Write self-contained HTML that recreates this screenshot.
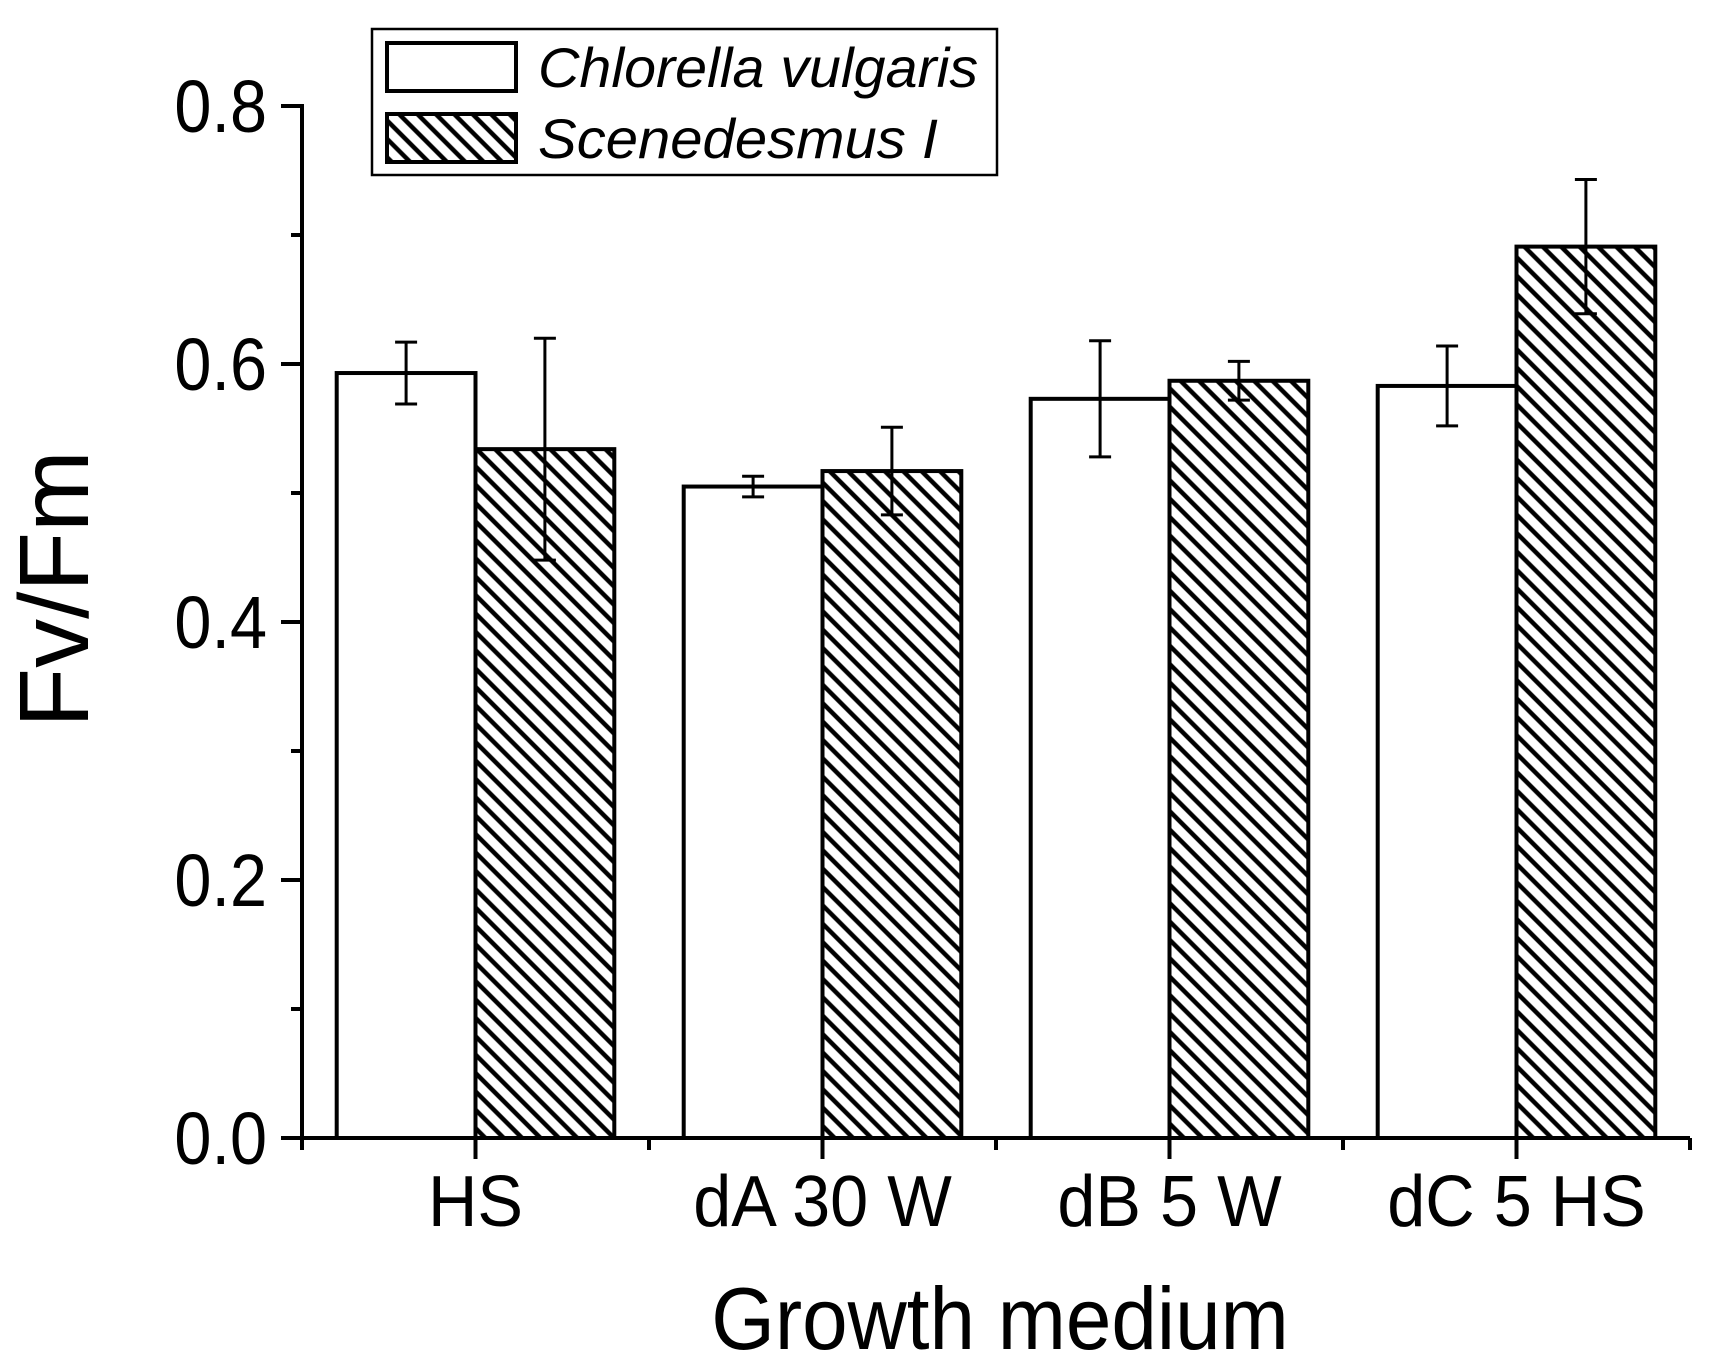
<!DOCTYPE html>
<html><head><meta charset="utf-8"><style>
html,body{margin:0;padding:0;background:#fff;}
svg{display:block;font-family:"Liberation Sans",Arial,sans-serif;}
</style></head><body>
<svg id="chart" width="1711" height="1366" viewBox="0 0 1711 1366" xmlns="http://www.w3.org/2000/svg">
<defs>
<pattern id="hatch" patternUnits="userSpaceOnUse" width="13" height="13" patternTransform="rotate(-45)">
<rect width="13" height="13" fill="#fff"/>
<line x1="0" y1="0" x2="0" y2="13" stroke="#000" stroke-width="4.5" transform="translate(6.5,0)"/>
</pattern>
</defs>
<g id="plot"></g>
<text x="0" y="0" font-size="88" text-anchor="middle" transform="translate(1000,1349) scale(0.93,1)">Growth medium</text>
<text x="0" y="0" font-size="98" text-anchor="middle" transform="translate(88,589) rotate(-90)">Fv/Fm</text>
<g>
<rect x="372" y="29" width="625" height="146" fill="#fff" stroke="#000" stroke-width="2.5"/>
<rect x="387" y="43" width="129" height="48" fill="#fff" stroke="#000" stroke-width="4"/>
<text x="538" y="87" font-size="56" font-style="italic" textLength="440" lengthAdjust="spacingAndGlyphs">Chlorella vulgaris</text>
<rect x="387" y="114" width="129" height="48" fill="url(#hatch)" stroke="#000" stroke-width="4"/>
<text x="538" y="158" font-size="56" font-style="italic" textLength="400" lengthAdjust="spacingAndGlyphs">Scenedesmus I</text>
</g>
</svg>
<script>
const categories = ["HS", "dA 30 W", "dB 5 W", "dC 5 HS"];
const chlorella = [0.593, 0.505, 0.573, 0.583];
const chlorellaErr = [0.024, 0.008, 0.045, 0.031];
const scenedesmus = [0.534, 0.517, 0.587, 0.691];
const scenedesmusErr = [0.086, 0.034, 0.015, 0.052];
const yTicks = [0, 0.2, 0.4, 0.6, 0.8];
const yTickLabels = ["0.0", "0.2", "0.4", "0.6", "0.8"];
const yMinorTicks = [0.1, 0.3, 0.5, 0.7];

const NS = "http://www.w3.org/2000/svg";
const g = document.getElementById('plot');
const X0 = 302, X1 = 1690, Y0 = 1138, Y1 = 106, VMAX = 0.8;
const slot = (X1 - X0) / (categories.length * 2);
function yScale(v){ return Y0 - (v / VMAX) * (Y0 - Y1); }
function xCenter(i){ return X0 + (2 * i + 1) * slot; }
function mk(tag, attrs){ const e = document.createElementNS(NS, tag); for (const k in attrs) e.setAttribute(k, attrs[k]); g.appendChild(e); return e; }
const bw = slot * 0.8;

function drawBar(i, v, err, hatched){
  const x = hatched ? xCenter(i) : xCenter(i) - bw;
  const r = mk('rect', {x: x, y: yScale(v), width: bw, height: Y0 - yScale(v), fill: hatched ? 'url(#hatch)' : '#fff', stroke: '#000', 'stroke-width': 4});
  
  
  const cx = x + bw / 2;
  const eb = mk('path', {d: `M${cx},${yScale(v+err)}V${yScale(v-err)}M${cx-11},${yScale(v+err)}H${cx+11}M${cx-11},${yScale(v-err)}H${cx+11}`, stroke: '#000', 'stroke-width': 3, fill: 'none'});
  
  
}
categories.forEach((c, i) => {
  drawBar(i, chlorella[i], chlorellaErr[i], false);
  drawBar(i, scenedesmus[i], scenedesmusErr[i], true);
});

const ya = mk('line', {x1: X0, y1: Y1 - 2, x2: X0, y2: Y0, stroke: '#000', 'stroke-width': 4});


const xa = mk('line', {x1: X0 - 2, y1: Y0, x2: X1, y2: Y0, stroke: '#000', 'stroke-width': 4});



yTicks.forEach((t, i) => {
  const y = yScale(t);
  const tk = mk('line', {x1: X0 - 21, y1: y, x2: X0, y2: y, stroke: '#000', 'stroke-width': 4});
  
  
  const tx = mk('text', {x: 0, y: 0, 'font-size': 74, 'text-anchor': 'end', transform: `translate(267,${y + 26}) scale(0.9,1)`});
  tx.textContent = yTickLabels[i];
  
  
});
yMinorTicks.forEach(t => {
  const y = yScale(t);
  const tk = mk('line', {x1: X0 - 11, y1: y, x2: X0, y2: y, stroke: '#000', 'stroke-width': 4});
  
  
});
for (let k = 0; k <= categories.length * 2; k++) {
  const x = X0 + k * slot;
  const major = k % 2 === 1;
  const tk = mk('line', {x1: x, y1: Y0, x2: x, y2: Y0 + (major ? 21 : 12), stroke: '#000', 'stroke-width': 4});
  
  
}
categories.forEach((c, i) => {
  const tx = mk('text', {x: 0, y: 0, 'font-size': 72, 'text-anchor': 'middle', transform: `translate(${xCenter(i)},1226) scale(0.95,1)`});
  tx.textContent = c;
  
  
});
</script>
</body></html>
